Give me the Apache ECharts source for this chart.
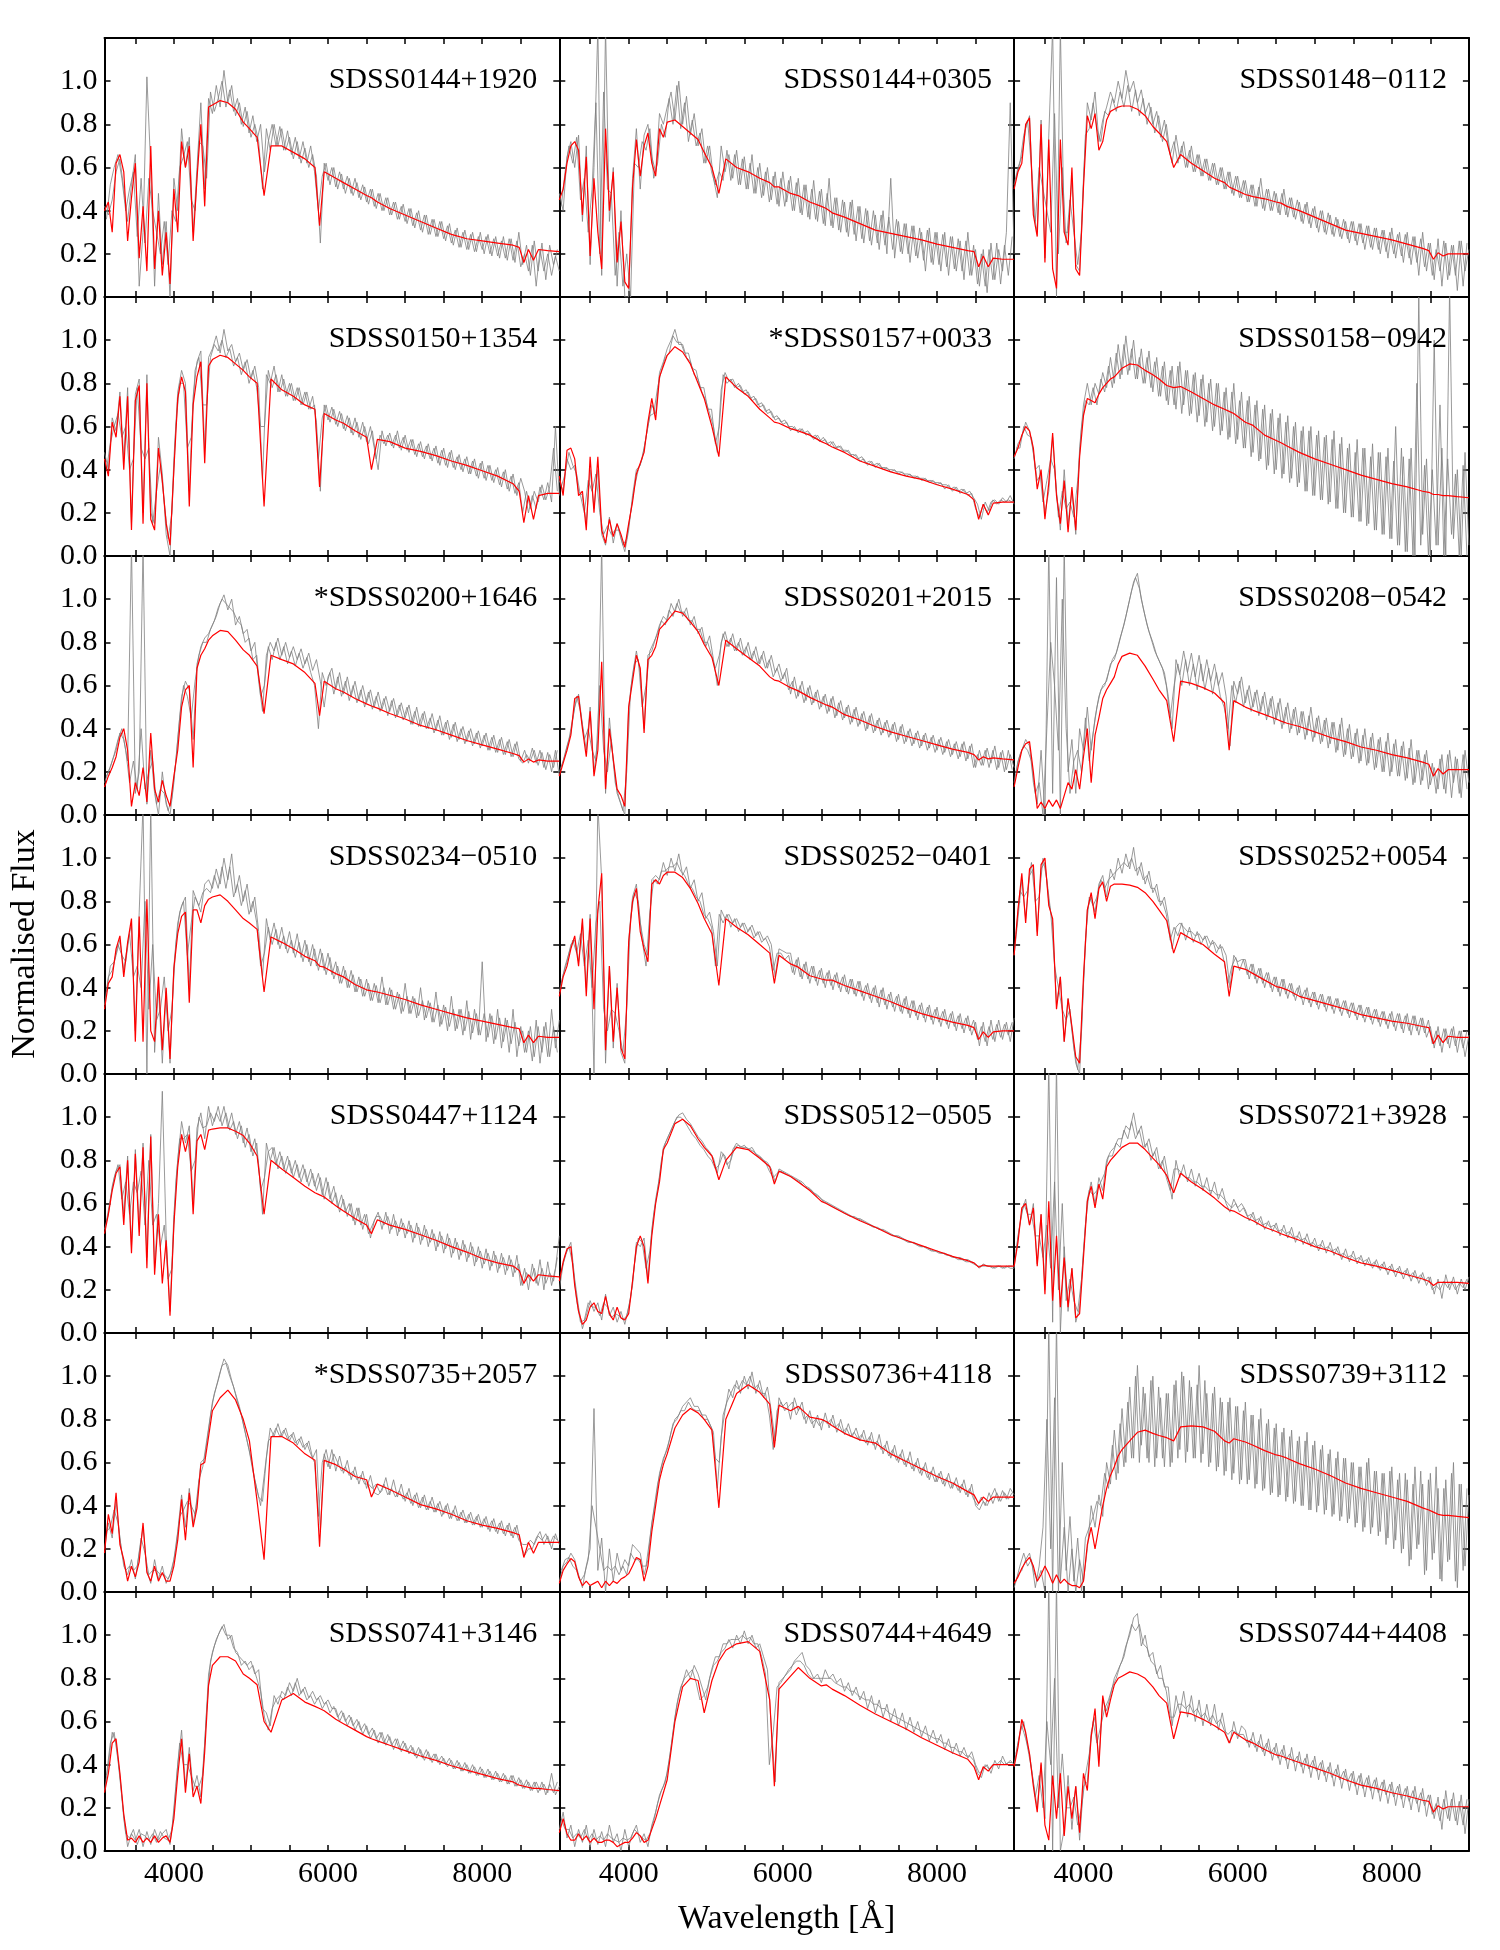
<!DOCTYPE html>
<html>
<head>
<meta charset="utf-8">
<title>Spectra</title>
<script src="https://cdn.jsdelivr.net/npm/echarts@6/dist/echarts.min.js"></script>
<style>
  html, body { margin: 0; padding: 0; background: #fff; }
  #chart { width: 1500px; height: 1950px; }
</style>
</head>
<body>
<div id="chart"></div>
<script>
// wavelength grid of the model curves (Angstrom)
var MODEL_WAVE = [3100,3150,3200,3250,3300,3350,3400,3450,3500,3550,3600,3650,3700,3750,3800,3850,3900,3950,4000,4050,4100,4150,4200,4250,4300,4350,4400,4450,4500,
  4600,4700,4800,4900,4980,5080,5170,5260,5400,5550,
  5700,5830,5890,5950,6100,6200,6350,6500,6563,6640,
  6800,7000,7200,7400,7600,7800,8000,8200,8400,8480,
  8540,8600,8665,8730,8850,9000];
// observed spectra: part A sampled at 3100,3150,...,9000 A; part B at 3125,3175,...,8975 A
var OBS_START_A = 3100, OBS_START_B = 3125, OBS_STEP = 50;

var names = ['SDSS0144+1920','SDSS0144+0305','SDSS0148\u22120112',
  'SDSS0150+1354','*SDSS0157+0033','SDSS0158\u22120942',
  '*SDSS0200+1646','SDSS0201+2015','SDSS0208\u22120542',
  'SDSS0234\u22120510','SDSS0252\u22120401','SDSS0252+0054',
  'SDSS0447+1124','SDSS0512\u22120505','SDSS0721+3928',
  '*SDSS0735+2057','SDSS0736+4118','SDSS0739+3112',
  'SDSS0741+3146','SDSS0744+4649','SDSS0744+4408'];

var xTickValues = [3500,4000,4500,5000,5500,6000,6500,7000,7500,8000,8500];
var xLabelValues = [4000,6000,8000];

// --- model fits (red) ---
var m_0144p1920 = [.40,.44,.30,.62,.66,.58,.26,.46,.62,.18,.42,.12,.70,.13,.40,.10,.30,.06,.50,.30,.72,.60,.70,.26,.55,.80,.42,.88,.89,
  .91,.90,.87,.81,.78,.74,.47,.70,.70,.67, .64,.60,.33,.58,.55,.53,.50,.47,.46,.44, .41,.38,.35,.32,.29,.27,.26,.25,.24,.23, .16,.22,.17,.22,.215,.21];
var m_0144p0305 = [.45,.50,.62,.70,.72,.68,.38,.65,.19,.55,.30,.13,.78,.40,.58,.16,.35,.07,.04,.51,.73,.56,.70,.76,.62,.56,.78,.74,.81,
  .82,.79,.76,.73,.67,.60,.48,.64,.60,.58, .55,.53,.51,.51,.48,.47,.44,.42,.41,.39, .37,.34,.31,.295,.28,.265,.245,.23,.215,.21, .14,.19,.14,.18,.175,.175];
var m_0148m0112 = [.50,.58,.62,.80,.83,.38,.28,.80,.16,.73,.13,.04,.73,.30,.24,.60,.13,.10,.51,.84,.78,.85,.68,.72,.82,.86,.87,.88,.885,
  .885,.87,.84,.79,.76,.72,.60,.66,.62,.585, .55,.53,.51,.50,.475,.465,.455,.44,.435,.42, .40,.37,.34,.31,.295,.28,.265,.245,.225,.215, .175,.205,.19,.20,.20,.20];
var m_0150p1354 = [.45,.37,.62,.55,.74,.40,.74,.12,.72,.79,.15,.80,.17,.12,.50,.35,.15,.05,.40,.73,.83,.76,.23,.70,.83,.90,.43,.88,.91,
  .93,.92,.89,.86,.83,.80,.23,.82,.77,.74, .70,.68,.32,.66,.63,.615,.58,.55,.40,.54, .53,.50,.485,.465,.44,.42,.395,.37,.335,.30, .155,.28,.17,.28,.29,.29];
var m_0157p0033 = [.37,.28,.49,.50,.45,.28,.30,.12,.46,.20,.46,.12,.06,.17,.09,.15,.10,.04,.15,.25,.38,.43,.48,.62,.73,.63,.83,.88,.93,
  .97,.945,.89,.80,.73,.60,.46,.83,.78,.74, .68,.64,.62,.615,.59,.58,.56,.53,.52,.505, .48,.44,.415,.39,.37,.355,.33,.31,.285,.26, .17,.24,.19,.245,.25,.25];
var m_0158m0942 = [.46,.50,.56,.60,.58,.50,.31,.40,.17,.34,.57,.28,.15,.35,.11,.32,.12,.46,.65,.73,.72,.71,.75,.78,.80,.82,.83,.85,.87,
  .89,.885,.86,.84,.82,.79,.78,.785,.76,.73, .70,.68,.67,.66,.62,.605,.56,.535,.525,.51, .48,.45,.425,.40,.375,.355,.335,.32,.30,.295, .285,.285,.28,.28,.275,.27];
var m_0200p1646 = [.13,.18,.22,.27,.36,.40,.30,.04,.15,.09,.22,.06,.38,.12,.06,.16,.09,.04,.18,.30,.50,.58,.60,.22,.68,.74,.77,.81,.83,
  .855,.85,.81,.765,.74,.69,.47,.74,.72,.70, .66,.61,.46,.62,.585,.57,.54,.515,.505,.495, .47,.445,.415,.395,.37,.345,.325,.305,.285,.275, .245,.26,.245,.255,.25,.25];
var m_0201p2015 = [.18,.24,.30,.37,.54,.55,.40,.27,.48,.18,.30,.71,.12,.40,.26,.12,.09,.04,.50,.62,.74,.68,.38,.72,.74,.78,.86,.88,.90,
  .945,.935,.895,.85,.79,.73,.60,.81,.77,.73, .69,.64,.625,.62,.59,.575,.545,.52,.51,.50, .465,.44,.41,.385,.365,.345,.325,.305,.29,.28, .255,.27,.26,.265,.26,.255];
var m_0208m0542 = [.13,.22,.30,.33,.34,.20,.03,.06,.03,.07,.04,.07,.03,.09,.15,.12,.21,.12,.27,.40,.15,.37,.45,.54,.58,.61,.64,.70,.735,
  .75,.74,.69,.63,.58,.53,.34,.62,.61,.59, .565,.52,.30,.53,.50,.485,.465,.445,.435,.425, .41,.385,.36,.34,.315,.30,.28,.265,.245,.235, .18,.215,.19,.21,.21,.21];
var m_0234m0510 = [.30,.42,.45,.58,.64,.45,.61,.72,.15,.73,.15,.81,.20,.15,.45,.11,.40,.07,.49,.65,.73,.75,.33,.76,.76,.70,.78,.81,.82,
  .83,.80,.76,.72,.70,.67,.38,.635,.61,.58, .545,.525,.50,.495,.465,.45,.415,.39,.385,.38, .365,.345,.32,.30,.28,.26,.245,.23,.215,.21, .145,.18,.145,.175,.17,.17];
var m_0252m0401 = [.36,.45,.50,.58,.64,.50,.72,.36,.72,.30,.76,.93,.11,.50,.15,.40,.12,.07,.61,.80,.86,.66,.58,.52,.88,.90,.88,.92,.935,
  .935,.91,.86,.79,.72,.65,.41,.72,.68,.645, .60,.56,.42,.55,.51,.495,.455,.44,.435,.435, .41,.385,.36,.335,.305,.28,.26,.24,.225,.215, .16,.195,.17,.195,.20,.20];
var m_0252p0054 = [.55,.76,.93,.70,.95,.97,.64,.97,1.0,.78,.72,.30,.45,.15,.35,.22,.08,.05,.45,.76,.84,.72,.86,.89,.80,.87,.88,.88,.88,
  .875,.865,.84,.80,.76,.71,.56,.655,.625,.60, .555,.52,.36,.50,.485,.465,.435,.405,.40,.39, .36,.34,.32,.30,.275,.26,.245,.235,.22,.215, .14,.18,.145,.175,.17,.17];
var m_0447p1124 = [.46,.55,.66,.74,.77,.50,.80,.37,.83,.45,.86,.30,.91,.27,.55,.23,.43,.08,.50,.77,.92,.84,.92,.55,.89,.92,.85,.94,.945,
  .95,.95,.935,.915,.88,.82,.55,.80,.76,.72, .68,.65,.64,.63,.59,.565,.53,.50,.46,.525, .50,.48,.455,.43,.40,.375,.345,.325,.31,.29, .23,.27,.24,.27,.265,.26];
var m_0512m0505 = [.24,.33,.39,.40,.22,.10,.04,.06,.12,.14,.10,.09,.17,.09,.06,.12,.07,.06,.09,.24,.40,.45,.40,.23,.45,.60,.70,.85,.88,
  .97,.99,.96,.90,.86,.82,.71,.80,.86,.85, .81,.77,.69,.75,.725,.70,.66,.61,.60,.585, .555,.52,.49,.455,.43,.405,.38,.355,.335,.325, .305,.315,.31,.31,.31,.31];
var m_0721p3928 = [.31,.42,.58,.60,.50,.58,.31,.55,.18,.61,.15,.45,.12,.35,.12,.30,.07,.09,.35,.61,.68,.58,.69,.62,.77,.80,.82,.84,.86,
  .88,.88,.85,.81,.78,.73,.65,.74,.70,.665, .625,.585,.57,.565,.535,.52,.49,.47,.46,.45, .43,.40,.38,.35,.325,.31,.29,.27,.25,.24, .22,.235,.235,.235,.235,.23];
var m_0735p2057 = [.18,.36,.27,.46,.22,.15,.05,.12,.07,.14,.32,.09,.05,.12,.05,.09,.05,.05,.12,.24,.43,.24,.46,.30,.39,.59,.60,.72,.84,
  .90,.935,.89,.80,.70,.42,.15,.72,.72,.69, .64,.61,.21,.61,.59,.57,.535,.52,.44,.50, .475,.44,.405,.385,.36,.33,.31,.295,.275,.265, .16,.23,.18,.23,.23,.23];
var m_0736p4118 = [.04,.10,.13,.155,.14,.07,.03,.05,.03,.04,.05,.02,.05,.03,.05,.04,.06,.07,.085,.12,.16,.15,.05,.12,.28,.40,.52,.59,.64,
  .76,.82,.85,.83,.80,.75,.39,.80,.92,.96, .925,.87,.67,.865,.84,.86,.81,.80,.79,.77, .735,.705,.69,.64,.605,.57,.535,.505,.465,.45, .41,.44,.42,.44,.44,.44];
var m_0739p3112 = [.04,.07,.11,.14,.16,.12,.05,.08,.12,.085,.04,.08,.04,.06,.04,.03,.03,.02,.05,.22,.30,.20,.30,.40,.48,.54,.58,.63,.66,
  .70,.74,.75,.735,.725,.715,.70,.765,.77,.765, .745,.70,.69,.71,.695,.68,.655,.635,.63,.62, .595,.57,.54,.505,.48,.46,.44,.42,.39,.38, .37,.36,.355,.355,.35,.345];
var m_0741p3146 = [.27,.36,.50,.52,.36,.17,.05,.06,.04,.07,.04,.06,.04,.07,.04,.06,.07,.04,.15,.35,.52,.27,.45,.25,.30,.22,.46,.77,.86,
  .90,.90,.88,.82,.80,.77,.60,.55,.70,.73, .69,.67,.66,.65,.61,.59,.56,.53,.52,.51, .49,.465,.44,.42,.395,.375,.355,.335,.32,.305, .30,.295,.29,.29,.285,.28];
var m_0744p4649 = [.085,.15,.08,.05,.05,.08,.05,.07,.04,.06,.04,.04,.05,.05,.04,.02,.03,.04,.04,.06,.085,.07,.04,.05,.10,.15,.21,.27,.33,
  .60,.76,.80,.79,.64,.79,.88,.93,.96,.97, .925,.70,.30,.75,.81,.85,.80,.765,.77,.75, .72,.675,.635,.60,.565,.525,.49,.455,.425,.39, .33,.39,.37,.40,.40,.40];
var m_0744p4408 = [.39,.48,.61,.55,.45,.30,.18,.41,.12,.05,.35,.15,.36,.07,.30,.15,.30,.085,.36,.28,.53,.66,.39,.72,.62,.70,.77,.80,.81,
  .83,.82,.80,.76,.72,.685,.52,.645,.635,.61, .58,.55,.50,.55,.515,.50,.47,.445,.44,.43, .41,.385,.36,.33,.305,.29,.27,.255,.235,.23, .18,.21,.195,.205,.205,.205];

// --- observed spectra (grey), part A: 3100..9000 A every 50 A ---
var oa_0144p1920 = [.42,.38,.45,.58,.64,.50,.35,.52,.66,.05,.30,1.02,.60,.05,.48,.15,.35,0,.55,.40,
  .78,.60,.74,.30,.60,.90,.50,.92,.85,.98,.88,1.05,.90,.98,.84,.90,.79,.86,.74,.80,
  .72,.50,.78,.68,.80,.70,.78,.68,.74,.64,.72,.62,.69,.60,.66,.56,.25,.62,.54,.60,
  .51,.58,.50,.56,.48,.55,.46,.52,.44,.50,.42,.48,.40,.46,.38,.44,.36,.42,.35,.41,
  .33,.39,.31,.38,.29,.36,.28,.35,.27,.33,.25,.31,.23,.30,.22,.29,.21,.28,.22,.28,
  .20,.27,.19,.26,.18,.27,.17,.26,.14,.20,.12,.24,.05,.22,.12,.20,.10,.19,.12];
var oa_0144p0305 = [.48,.40,.65,.72,.60,.75,.35,.70,.15,.60,1.25,.10,1.25,.35,.60,.05,.40,0,0,.55,
  .78,.50,.75,.80,.65,.58,.85,.80,.88,.95,.82,1.0,.80,.93,.75,.85,.70,.78,.62,.70,
  .55,.46,.70,.58,.66,.55,.68,.52,.65,.50,.66,.48,.62,.47,.60,.45,.58,.42,.58,.44,
  .56,.40,.55,.38,.52,.36,.54,.35,.50,.33,.55,.32,.46,.30,.44,.28,.45,.26,.42,.25,
  .40,.24,.38,.22,.40,.20,.55,.18,.35,.20,.34,.16,.33,.18,.30,.12,.32,.15,.30,.12,
  .30,.10,.28,.12,.26,.08,.30,.10,.22,.05,.22,.02,.25,.08,.22,.12,.30,.90,.20];
var oa_0148m0112 = [.52,.60,.65,.78,.84,.40,.30,.82,.18,.75,1.25,0,1.25,.30,.30,.55,.15,.12,.55,.90,
  .82,.95,.72,.82,.88,.95,.90,1.0,.92,1.05,.95,1.0,.90,.96,.85,.90,.80,.86,.74,.82,
  .70,.62,.75,.64,.72,.60,.70,.58,.66,.56,.64,.54,.62,.52,.60,.50,.58,.47,.56,.46,
  .54,.44,.52,.42,.55,.40,.50,.40,.48,.38,.50,.37,.46,.36,.44,.34,.44,.32,.42,.30,
  .40,.29,.38,.28,.36,.27,.35,.25,.35,.24,.34,.22,.33,.22,.32,.20,.31,.18,.32,.18,
  .30,.16,.30,.15,.28,.10,.30,.12,.25,.08,.27,.05,.25,.10,.24,.03,.26,.12,.22];
var oa_0150p1354 = [.48,.40,.64,.58,.76,.45,.78,.15,.75,.82,.20,.84,.20,.15,.55,.38,.10,0,.45,.76,
  .86,.80,.30,.74,.90,.95,.50,.92,.96,1.02,.94,1.05,.95,.98,.90,.94,.86,.91,.82,.88,
  .78,.35,.84,.80,.88,.76,.84,.74,.80,.72,.78,.70,.76,.68,.74,.62,.30,.70,.63,.69,
  .61,.67,.59,.65,.57,.64,.55,.62,.53,.60,.50,.40,.58,.51,.57,.50,.58,.49,.56,.48,
  .54,.46,.53,.45,.52,.44,.51,.42,.50,.41,.49,.40,.47,.39,.46,.38,.45,.36,.44,.35,
  .42,.34,.41,.32,.40,.30,.38,.28,.36,.30,.20,.28,.22,.32,.26,.34,.25,.60,.28];
var oa_0157p0033 = [.35,.30,.45,.40,.42,.30,.28,.15,.40,.22,.40,.10,.05,.18,.06,.15,.08,.02,.12,.28,
  .40,.42,.50,.60,.70,.66,.85,.90,.96,1.00,1.05,.98,.98,.92,.90,.84,.82,.76,.72,.66,
  .60,.48,.77,.85,.81,.82,.78,.79,.75,.76,.72,.73,.69,.70,.66,.67,.63,.64,.61,.62,
  .58,.60,.57,.59,.56,.57,.54,.56,.53,.54,.51,.53,.50,.51,.48,.49,.46,.47,.44,.45,
  .42,.44,.41,.43,.40,.41,.39,.40,.38,.39,.37,.38,.36,.37,.35,.36,.34,.35,.33,.34,
  .31,.33,.30,.32,.29,.31,.28,.29,.22,.18,.24,.20,.25,.26,.24,.27,.25,.28,.24];
var oa_0158m0942 = [.45,.52,.55,.62,.58,.48,.35,.38,.20,.30,.55,.30,.12,.40,.15,.30,.10,.50,.70,.80,
  .70,.80,.75,.85,.78,.92,.80,.98,.84,1.02,.86,1.0,.82,.96,.80,.95,.76,.92,.74,.90,
  .70,.88,.68,.90,.70,.86,.66,.85,.65,.84,.62,.82,.60,.80,.58,.78,.55,.80,.54,.76,
  .50,.74,.48,.72,.45,.70,.42,.68,.40,.66,.38,.65,.36,.62,.34,.60,.30,.60,.28,.58,
  .26,.56,.25,.58,.22,.55,.20,.52,.18,.54,.16,.50,.15,.52,.12,.48,.10,.50,.08,.60,
  .05,.46,.02,.50,0,1.2,.10,.45,0,1.0,.05,.50,0,1.25,.08,.40,0,.48,.05];
var oa_0200p1646 = [.15,.20,.25,.30,.38,.35,.25,1.25,.10,.20,1.25,.05,.30,.10,0,.20,.05,0,.15,.35,
  .55,.62,.58,.35,.70,.78,.82,.84,.88,.92,.98,1.02,.95,1.0,.88,.92,.84,.86,.76,.80,
  .62,.48,.74,.80,.76,.82,.74,.80,.73,.78,.72,.77,.70,.75,.67,.72,.62,.50,.64,.68,
  .58,.66,.56,.64,.55,.62,.53,.60,.52,.58,.50,.57,.49,.55,.48,.54,.46,.52,.45,.51,
  .42,.50,.41,.48,.40,.47,.39,.46,.37,.44,.36,.43,.35,.41,.34,.40,.33,.39,.32,.38,
  .30,.37,.29,.36,.28,.35,.27,.34,.25,.30,.24,.31,.24,.30,.22,.29,.20,.30,.18];
var oa_0201p2015 = [.20,.25,.32,.38,.50,.56,.42,.30,.50,.20,.35,1.25,.10,.45,.25,.10,.05,0,.50,.65,
  .76,.66,.40,.74,.76,.82,.88,.92,.90,.98,.94,1.0,.92,.96,.88,.92,.84,.87,.78,.83,
  .72,.60,.80,.85,.78,.84,.76,.82,.74,.80,.72,.78,.70,.76,.68,.74,.66,.70,.63,.68,
  .56,.64,.55,.62,.53,.60,.52,.58,.50,.56,.48,.55,.46,.53,.45,.51,.43,.50,.42,.48,
  .40,.47,.39,.45,.38,.44,.37,.43,.35,.42,.34,.40,.33,.39,.32,.38,.31,.37,.30,.36,
  .29,.35,.28,.34,.27,.34,.26,.33,.22,.30,.23,.31,.24,.32,.22,.30,.21,.28,.22];
var oa_0208m0542 = [.15,.25,.30,.35,.32,.15,.05,.30,0,1.25,.10,1.1,0,1.25,.20,.35,.10,.40,.30,.50,
  .30,.45,.55,.60,.62,.70,.72,.78,.85,.92,1.0,1.08,1.12,1.0,.92,.85,.80,.74,.70,.66,
  .55,.40,.72,.65,.76,.66,.75,.64,.74,.62,.72,.62,.70,.60,.66,.55,.32,.62,.56,.64,
  .52,.60,.50,.58,.48,.57,.46,.55,.44,.54,.42,.52,.40,.50,.38,.48,.37,.50,.36,.46,
  .34,.45,.33,.43,.30,.45,.28,.42,.27,.40,.25,.40,.24,.38,.22,.36,.20,.38,.20,.35,
  .18,.34,.17,.35,.15,.30,.16,.30,.14,.22,.12,.28,.10,.30,.15,.26,.08,.30,.15];
var oa_0234m0510 = [.32,.45,.48,.55,.62,.48,.60,.70,.20,.75,1.25,0,1.25,.10,.40,.05,.38,.05,.50,.70,
  .78,.82,.40,.85,.80,.75,.88,.90,.86,.95,.88,1.0,.90,1.02,.84,.92,.80,.88,.75,.82,
  .66,.45,.72,.62,.70,.60,.68,.58,.66,.56,.65,.54,.62,.52,.60,.50,.58,.48,.56,.46,
  .52,.42,.50,.40,.48,.38,.45,.36,.44,.34,.42,.33,.45,.32,.40,.30,.38,.28,.42,.28,
  .36,.26,.40,.25,.34,.24,.38,.22,.32,.20,.36,.20,.30,.18,.34,.16,.30,.18,.52,.15,
  .28,.14,.30,.12,.26,.10,.30,.08,.22,.10,.20,.06,.25,.05,.22,.08,.30,.12,.25];
var oa_0252m0401 = [.38,.46,.52,.60,.62,.52,.70,.40,.74,0,1.25,.90,.05,.50,.12,.42,.10,.05,.62,.82,
  .88,.70,.60,.55,.90,.92,.90,.98,.92,1.0,.94,1.02,.92,.96,.86,.90,.80,.84,.72,.75,
  .66,.50,.76,.72,.74,.70,.72,.68,.70,.66,.69,.64,.66,.62,.64,.60,.45,.58,.57,.56,
  .56,.46,.54,.44,.52,.42,.50,.41,.49,.40,.48,.39,.47,.38,.46,.37,.44,.36,.43,.34,
  .42,.33,.41,.31,.40,.30,.38,.29,.37,.28,.36,.26,.34,.25,.33,.24,.32,.23,.31,.22,
  .30,.21,.29,.20,.28,.19,.27,.18,.24,.13,.24,.13,.25,.15,.25,.16,.24,.15,.26];
var oa_0252p0054 = [.55,.72,.90,.72,.92,.95,.66,.95,.98,.80,.70,.32,.45,.15,.35,.20,.05,0,.42,.76,
  .82,.75,.88,.92,.82,.95,.90,1.0,.93,1.02,.95,1.05,.92,.98,.88,.94,.84,.88,.78,.82,
  .72,.58,.68,.70,.68,.66,.66,.64,.65,.62,.64,.60,.61,.58,.59,.55,.40,.55,.52,.53,
  .53,.44,.51,.42,.49,.40,.47,.38,.45,.36,.44,.35,.42,.34,.41,.32,.40,.31,.38,.30,
  .37,.29,.36,.28,.35,.27,.34,.26,.33,.25,.32,.24,.31,.23,.30,.22,.29,.21,.29,.20,
  .28,.19,.28,.18,.27,.18,.26,.17,.22,.12,.22,.10,.21,.12,.22,.10,.20,.08,.18];
var oa_0447p1124 = [.48,.55,.68,.75,.78,.55,.82,.40,.85,.50,.88,.35,.92,.30,.60,1.12,.45,.10,.55,.80,
  .98,.88,.96,.60,.95,1.02,.90,1.05,.96,1.02,.98,1.05,.95,1.02,.92,.98,.88,.95,.84,.90,
  .78,.55,.88,.80,.86,.76,.82,.74,.80,.72,.78,.70,.76,.68,.74,.66,.72,.62,.70,.60,
  .65,.56,.62,.54,.60,.50,.58,.48,.55,.44,.52,.56,.48,.56,.46,.55,.45,.53,.44,.52,
  .42,.51,.41,.50,.40,.48,.38,.47,.37,.46,.35,.44,.34,.43,.33,.42,.31,.40,.30,.39,
  .29,.38,.28,.37,.27,.36,.26,.36,.22,.30,.20,.32,.23,.34,.20,.33,.22,.30,.45];
var oa_0512m0505 = [.20,.32,.38,.42,.25,.12,.02,.08,.15,.10,.14,.06,.18,.08,.12,.05,.10,.04,.12,.22,
  .42,.40,.44,.25,.48,.62,.72,.86,.90,.94,.98,1.01,1.02,.99,.97,.94,.91,.89,.86,.84,
  .81,.74,.84,.82,.76,.85,.88,.86,.87,.85,.86,.83,.82,.80,.79,.76,.70,.76,.75,.74,
  .73,.72,.71,.70,.68,.67,.65,.64,.62,.61,.60,.59,.58,.57,.56,.55,.54,.53,.53,.52,
  .51,.50,.49,.48,.48,.47,.46,.45,.45,.44,.43,.42,.42,.41,.40,.40,.39,.38,.38,.37,
  .37,.36,.35,.35,.35,.34,.34,.33,.32,.30,.32,.31,.31,.30,.31,.30,.31,.30,.30];
var oa_0721p3928 = [.30,.45,.56,.62,.50,.60,.32,.55,.20,1.25,.05,1.25,0,.40,.10,.30,.05,.12,.38,.62,
  .70,.60,.72,.66,.80,.84,.86,.90,.90,.96,.94,1.02,.92,.96,.86,.90,.82,.86,.76,.82,
  .72,.62,.80,.72,.78,.70,.76,.68,.74,.66,.72,.64,.70,.62,.67,.60,.56,.62,.58,.60,
  .57,.52,.56,.50,.54,.48,.52,.47,.51,.45,.50,.44,.49,.42,.47,.41,.46,.40,.44,.38,
  .43,.37,.42,.36,.40,.34,.39,.33,.38,.32,.36,.31,.35,.30,.34,.29,.33,.27,.32,.26,
  .31,.25,.30,.24,.29,.23,.28,.22,.26,.18,.25,.16,.27,.20,.26,.18,.25,.20,.26];
var oa_0735p2057 = [.20,.32,.25,.42,.25,.12,.08,.15,.06,.18,.30,.10,.04,.15,.06,.12,.04,.08,.15,.28,
  .45,.30,.48,.32,.42,.60,.62,.75,.88,.95,1.02,1.08,1.05,.98,.92,.86,.78,.70,.62,.52,
  .44,.42,.62,.76,.72,.78,.72,.76,.70,.74,.68,.72,.66,.70,.62,.66,.28,.64,.58,.66,
  .56,.63,.55,.61,.52,.58,.50,.56,.48,.54,.46,.45,.47,.53,.45,.52,.44,.50,.42,.48,
  .40,.46,.39,.45,.38,.44,.37,.42,.36,.41,.34,.40,.33,.38,.32,.37,.31,.36,.30,.35,
  .28,.34,.27,.33,.26,.32,.25,.31,.22,.17,.20,.20,.25,.28,.22,.26,.20,.27,.22];
var oa_0736p4118 = [.05,.12,.14,.18,.15,.08,.02,.12,.20,.85,.10,.25,0,.20,.05,.18,.10,.15,.12,.22,
  .20,.18,.08,.15,.32,.42,.55,.62,.66,.74,.80,.82,.86,.88,.90,.86,.86,.82,.82,.78,
  .74,.48,.72,.84,.94,.90,.98,.92,1.0,.94,1.02,.92,.98,.90,.95,.84,.70,.90,.86,.88,
  .80,.90,.84,.88,.78,.84,.76,.82,.75,.83,.76,.82,.74,.80,.73,.78,.72,.76,.70,.75,
  .68,.74,.66,.73,.64,.70,.62,.68,.60,.66,.58,.65,.56,.62,.54,.60,.52,.58,.51,.56,
  .49,.55,.48,.53,.46,.52,.44,.50,.40,.38,.42,.40,.44,.48,.42,.47,.43,.48,.45];
var oa_0739p3112 = [.02,.08,.10,.15,.18,.10,.05,.10,0,1.25,0,1.25,.05,.30,0,.20,0,.15,.05,.20,
  .40,.30,.45,.35,.60,.50,.75,.55,.85,.60,.95,.62,1.05,.68,.92,.60,1.0,.62,.90,.58,
  .92,.60,.98,.66,1.0,.65,.95,.62,1.05,.64,.92,.60,.95,.58,.88,.56,.90,.55,.86,.52,
  .88,.52,.82,.50,.85,.48,.80,.46,.78,.45,.76,.44,.75,.42,.72,.40,.74,.38,.70,.40,
  .68,.38,.66,.36,.65,.35,.62,.34,.60,.32,.58,.30,.62,.30,.56,.28,.55,.25,.58,.24,
  .55,.20,.52,.15,.58,.22,.50,.10,.55,.18,.48,.05,.52,.15,.60,.02,.50,.12,.45];
var oa_0741p3146 = [.28,.40,.55,.50,.35,.15,.02,.08,.05,.10,.02,.09,.03,.10,.05,.08,.10,.03,.18,.40,
  .56,.30,.48,.28,.35,.25,.50,.82,.92,.98,1.02,1.05,.98,1.0,.92,.90,.88,.86,.88,.82,
  .84,.66,.64,.58,.72,.68,.74,.72,.78,.74,.80,.73,.76,.71,.74,.70,.72,.68,.70,.66,
  .66,.60,.64,.58,.62,.56,.60,.54,.58,.52,.56,.50,.55,.49,.53,.47,.52,.46,.50,.45,
  .48,.43,.47,.42,.46,.41,.45,.40,.43,.39,.42,.38,.41,.37,.40,.36,.39,.35,.38,.34,
  .37,.33,.36,.32,.35,.31,.35,.30,.33,.29,.32,.28,.32,.28,.31,.27,.36,.26,.30];
var oa_0744p4649 = [.10,.18,.06,.12,.02,.10,.04,.12,.02,.10,.03,.09,.02,.12,.04,.08,0,.10,.02,.08,
  .12,.04,.08,.02,.12,.18,.26,.30,.36,.48,.62,.72,.78,.84,.80,.86,.82,.76,.70,.80,
  .86,.88,.92,.94,.98,.94,1.0,.96,1.02,.96,1.0,.94,.96,.90,.84,.58,.32,.78,.80,.82,
  .84,.88,.90,.92,.86,.84,.80,.82,.78,.84,.80,.82,.78,.80,.74,.78,.72,.76,.70,.74,
  .66,.72,.64,.70,.62,.68,.60,.66,.58,.64,.56,.62,.55,.60,.53,.58,.51,.56,.50,.54,
  .47,.52,.45,.50,.44,.48,.43,.46,.40,.36,.38,.40,.36,.42,.38,.44,.40,.42,.40];
var oa_0744p4408 = [.40,.50,.58,.52,.45,.32,.20,.40,.15,1.25,0,1.25,0,.10,.35,.10,.30,.05,.30,.32,
  .55,.62,.42,.70,.65,.72,.80,.84,.88,.95,1.0,1.08,1.1,.95,1.0,.90,.92,.82,.86,.76,
  .76,.58,.72,.64,.74,.62,.72,.60,.70,.58,.68,.58,.68,.56,.64,.54,.50,.60,.52,.58,
  .56,.48,.55,.46,.54,.44,.52,.42,.50,.40,.49,.38,.48,.37,.46,.36,.45,.34,.44,.33,
  .42,.32,.41,.30,.40,.29,.38,.28,.37,.26,.36,.25,.35,.24,.34,.23,.33,.22,.32,.21,
  .31,.20,.30,.19,.30,.18,.29,.16,.26,.15,.25,.10,.28,.14,.27,.12,.26,.08,.24];

// --- observed spectra (grey), part B: 3125..8975 A every 50 A ---
var ob_0144p1920 = [.36,.52,.60,.66,.55,.40,.50,.58,.28,.55,.25,.55,.40,.30,.20,.35,.15,.40,.35,.60,
  .65,.72,.45,.40,.72,.70,.55,.95,.86,.92,1.0,.88,.96,.86,.92,.80,.88,.76,.84,.72,
  .80,.58,.72,.80,.70,.79,.68,.77,.66,.74,.64,.72,.62,.70,.58,.40,.56,.62,.52,.60,
  .50,.57,.48,.55,.47,.53,.45,.51,.43,.50,.41,.48,.40,.46,.38,.44,.36,.43,.34,.41,
  .32,.40,.30,.38,.29,.36,.28,.35,.26,.34,.24,.32,.23,.31,.22,.30,.21,.30,.20,.29,
  .19,.28,.18,.28,.17,.27,.16,.30,.15,.24,.10,.26,.12,.25,.08,.24,.15,.22];
var ob_0144p0305 = [.42,.58,.70,.62,.74,.45,.55,.30,.50,.90,.20,.95,.50,.48,.10,.30,.05,.20,0,.62,
  .60,.72,.68,.78,.55,.62,.80,.74,.92,.80,.98,.78,.90,.72,.82,.70,.76,.62,.70,.58,
  .52,.58,.54,.68,.54,.66,.52,.64,.50,.62,.48,.60,.46,.58,.44,.56,.43,.55,.42,.54,
  .40,.53,.39,.52,.37,.50,.36,.49,.34,.48,.33,.46,.31,.45,.30,.44,.29,.42,.27,.41,
  .26,.40,.25,.38,.24,.37,.22,.36,.21,.34,.20,.33,.19,.32,.17,.31,.16,.30,.15,.29,
  .14,.28,.13,.27,.12,.26,.10,.24,.06,.20,.05,.22,.08,.25,.06,.24,.10,.28];
var ob_0148m0112 = [.55,.62,.75,.82,.60,.35,.60,.50,.40,.30,.85,.20,.60,.25,.45,.30,.15,.30,.75,.78,
  .90,.78,.72,.86,.84,.92,.86,.95,.88,.98,.86,.96,.84,.92,.80,.88,.76,.84,.72,.80,
  .66,.72,.62,.70,.60,.68,.58,.66,.56,.64,.54,.62,.52,.60,.50,.58,.48,.56,.46,.54,
  .44,.52,.42,.51,.41,.50,.40,.49,.39,.48,.38,.46,.37,.45,.35,.43,.34,.41,.32,.40,
  .30,.39,.29,.37,.28,.36,.27,.35,.26,.34,.25,.33,.23,.32,.22,.31,.21,.30,.20,.29,
  .19,.29,.18,.28,.16,.27,.14,.25,.10,.22,.12,.26,.08,.24,.10,.26,.05,.25];
var ob_0150p1354 = [.40,.52,.60,.66,.55,.60,.40,.45,.78,.50,.45,.50,.15,.30,.42,.25,.08,.20,.60,.80,
  .80,.50,.55,.86,.92,.70,.70,.92,.98,.95,1.0,.92,.96,.88,.92,.84,.90,.80,.86,.78,
  .60,.60,.86,.78,.84,.76,.82,.74,.80,.72,.78,.70,.76,.68,.70,.45,.64,.70,.62,.68,
  .60,.66,.58,.64,.56,.62,.54,.60,.52,.58,.45,.56,.52,.56,.51,.56,.50,.55,.49,.54,
  .47,.52,.46,.51,.45,.50,.43,.49,.42,.48,.41,.46,.40,.45,.38,.44,.37,.43,.36,.42,
  .35,.40,.33,.39,.31,.37,.29,.34,.20,.30,.22,.30,.25,.33,.26,.32,.50,.30];
var ob_0157p0033 = [.32,.38,.48,.42,.38,.28,.20,.35,.30,.38,.20,.10,.14,.10,.12,.12,.05,.08,.20,.32,
  .40,.45,.55,.65,.66,.78,.86,.92,.94,1.02,.99,.99,.94,.94,.87,.86,.78,.78,.68,.68,
  .52,.60,.84,.80,.82,.78,.80,.76,.77,.73,.74,.70,.71,.67,.68,.64,.65,.62,.63,.60,
  .60,.58,.59,.57,.58,.55,.56,.53,.55,.52,.53,.50,.51,.49,.49,.47,.47,.45,.46,.43,
  .44,.42,.43,.41,.41,.40,.40,.39,.39,.38,.38,.37,.37,.36,.36,.35,.35,.34,.34,.33,
  .33,.31,.32,.30,.31,.29,.30,.27,.24,.17,.25,.21,.26,.24,.26,.25,.26,.25];
var ob_0158m0942 = [.50,.50,.60,.56,.55,.40,.42,.25,.35,.45,.40,.18,.30,.22,.25,.18,.35,.60,.72,.70,
  .78,.70,.82,.76,.88,.78,.94,.82,.98,.84,.96,.82,.92,.80,.92,.78,.90,.74,.88,.72,
  .86,.70,.88,.66,.86,.65,.84,.62,.82,.60,.80,.58,.80,.56,.76,.54,.76,.52,.72,.50,
  .72,.46,.70,.44,.68,.40,.66,.38,.64,.36,.62,.34,.60,.32,.58,.30,.58,.28,.56,.26,
  .55,.24,.54,.22,.52,.20,.50,.18,.48,.16,.50,.14,.46,.12,.48,.10,.46,.08,.44,.05,
  .50,.02,.45,0,.80,.05,.42,0,.40,.05,.70,0,.45,.10,.38,0,.42,0];
var ob_0200p1646 = [.18,.22,.28,.35,.40,.30,.15,.25,.12,.40,.12,.20,.25,.05,.12,.10,.02,.08,.25,.45,
  .60,.55,.45,.62,.74,.80,.80,.86,.90,.96,1.0,.98,.96,.94,.90,.88,.80,.82,.72,.74,
  .55,.60,.78,.72,.80,.72,.78,.70,.76,.69,.75,.68,.73,.66,.60,.40,.66,.60,.66,.56,
  .64,.55,.62,.53,.60,.52,.58,.50,.57,.49,.55,.48,.54,.46,.53,.45,.51,.44,.50,.42,
  .48,.41,.47,.40,.45,.38,.44,.37,.43,.35,.42,.34,.40,.33,.39,.32,.38,.31,.37,.30,
  .36,.29,.35,.28,.34,.27,.33,.26,.24,.28,.25,.30,.23,.29,.21,.28,.22,.30];
var ob_0201p2015 = [.22,.28,.35,.45,.55,.48,.35,.40,.30,.25,.60,.30,.20,.35,.15,.08,.02,.20,.58,.70,
  .72,.50,.60,.76,.80,.84,.90,.88,.95,.92,.98,.94,.94,.90,.90,.86,.86,.80,.80,.74,
  .68,.74,.84,.78,.82,.76,.80,.74,.78,.72,.76,.70,.74,.68,.72,.64,.68,.62,.66,.58,
  .62,.54,.60,.52,.59,.51,.57,.49,.55,.47,.54,.45,.52,.44,.50,.42,.49,.41,.47,.39,
  .46,.38,.44,.37,.43,.36,.42,.34,.41,.33,.39,.32,.38,.31,.37,.30,.36,.29,.35,.28,
  .34,.27,.33,.26,.33,.25,.32,.22,.28,.23,.30,.22,.30,.21,.29,.20,.30,.21];
var ob_0208m0542 = [.20,.28,.32,.30,.25,.10,.15,0,.40,.80,.60,.30,1.0,.40,.10,.25,.30,.20,.45,.25,
  .38,.50,.58,.60,.66,.72,.75,.82,.88,.96,1.04,1.1,1.05,.96,.88,.82,.76,.72,.68,.60,
  .45,.60,.70,.60,.72,.60,.70,.58,.70,.58,.68,.56,.66,.55,.50,.40,.60,.52,.62,.50,
  .58,.48,.57,.46,.55,.44,.54,.42,.52,.40,.50,.38,.49,.37,.48,.35,.46,.34,.45,.33,
  .44,.31,.43,.29,.42,.27,.40,.26,.38,.24,.37,.23,.36,.21,.35,.20,.34,.18,.33,.18,
  .32,.16,.31,.14,.30,.14,.28,.12,.24,.10,.26,.12,.28,.08,.27,.10,.28,.12];
var ob_0234m0510 = [.38,.50,.52,.60,.55,.52,.65,.45,.50,.40,.80,.30,.60,.25,.30,.45,.20,.30,.60,.75,
  .80,.55,.70,.82,.78,.84,.86,.84,.92,.86,.96,.86,.96,.82,.88,.78,.85,.74,.80,.70,
  .50,.56,.68,.60,.67,.58,.64,.56,.62,.54,.61,.52,.60,.50,.58,.48,.56,.46,.54,.44,
  .50,.42,.48,.40,.46,.38,.44,.36,.42,.34,.41,.33,.40,.32,.39,.30,.37,.29,.36,.28,
  .35,.27,.34,.26,.33,.24,.32,.23,.31,.22,.30,.21,.30,.20,.29,.19,.28,.18,.28,.17,
  .27,.16,.26,.15,.25,.14,.24,.13,.20,.10,.22,.08,.22,.10,.24,.08,.22,.10];
var ob_0252m0401 = [.42,.50,.56,.62,.56,.65,.50,.62,.40,.70,.80,.30,.20,.30,.28,.20,.10,.30,.72,.84,
  .80,.62,.50,.75,.90,.88,.94,.94,.96,.96,.98,.94,.92,.88,.86,.82,.80,.74,.72,.68,
  .50,.74,.70,.74,.68,.72,.66,.70,.65,.68,.63,.66,.61,.63,.59,.48,.56,.56,.53,.55,
  .47,.53,.45,.51,.44,.50,.43,.48,.42,.47,.41,.46,.40,.45,.38,.44,.37,.43,.36,.41,
  .35,.40,.33,.39,.32,.37,.31,.36,.29,.35,.28,.34,.27,.32,.26,.31,.25,.30,.24,.29,
  .23,.28,.22,.27,.21,.26,.20,.25,.16,.22,.15,.22,.16,.23,.17,.23,.18,.24];
var ob_0252p0054 = [.65,.85,.82,.85,.98,.80,.82,1.0,.90,.75,.50,.40,.30,.25,.30,.12,.02,.20,.62,.82,
  .78,.82,.90,.86,.90,.92,.94,.96,.98,.96,1.0,.94,.96,.90,.92,.86,.86,.80,.80,.74,
  .62,.68,.64,.70,.62,.68,.61,.66,.60,.64,.58,.62,.56,.60,.52,.42,.50,.54,.48,.53,
  .46,.51,.44,.49,.42,.47,.40,.45,.38,.44,.37,.42,.36,.40,.35,.39,.33,.38,.32,.37,
  .31,.36,.30,.35,.29,.34,.28,.33,.27,.32,.26,.31,.25,.30,.24,.29,.23,.28,.22,.28,
  .21,.27,.20,.27,.20,.26,.19,.25,.14,.20,.13,.21,.14,.21,.13,.20,.12,.20];
var ob_0447p1124 = [.52,.62,.72,.78,.62,.70,.55,.70,.65,.75,.50,.80,.50,.55,.40,.50,.25,.30,.70,.90,
  .90,.92,.75,.80,1.0,.95,.96,1.02,.98,1.05,.96,1.02,.94,.98,.90,.96,.86,.92,.82,.88,
  .66,.72,.84,.86,.78,.84,.76,.82,.74,.80,.72,.78,.70,.76,.68,.74,.64,.72,.62,.68,
  .58,.64,.56,.60,.52,.58,.50,.55,.46,.50,.54,.54,.50,.54,.48,.52,.47,.51,.46,.50,
  .44,.49,.43,.48,.42,.46,.40,.45,.39,.44,.37,.42,.36,.41,.35,.40,.33,.38,.32,.37,
  .31,.36,.30,.35,.29,.34,.28,.32,.22,.28,.24,.30,.22,.30,.23,.28,.24,.35];
var ob_0512m0505 = [.28,.36,.40,.32,.15,.05,.06,.14,.12,.12,.08,.14,.12,.07,.09,.08,.06,.08,.16,.32,
  .44,.42,.30,.38,.55,.66,.80,.88,.92,.96,1.0,1.0,.98,.95,.92,.90,.87,.85,.82,.80,
  .76,.78,.83,.78,.80,.86,.87,.86,.86,.85,.84,.82,.81,.79,.75,.72,.74,.75,.74,.73,
  .72,.71,.70,.68,.67,.66,.64,.63,.61,.60,.59,.58,.57,.56,.55,.54,.54,.53,.52,.51,
  .50,.49,.49,.48,.47,.46,.45,.45,.44,.43,.42,.42,.41,.40,.40,.39,.38,.38,.37,.37,
  .36,.36,.35,.34,.34,.33,.33,.32,.31,.31,.31,.31,.30,.31,.31,.30,.31,.31];
var ob_0721p3928 = [.38,.50,.60,.55,.55,.45,.45,.35,.50,.30,.70,.20,.60,.15,.25,.15,.10,.25,.50,.66,
  .64,.66,.70,.74,.82,.82,.88,.86,.94,.90,.98,.90,.94,.86,.88,.80,.84,.76,.80,.72,
  .66,.76,.76,.74,.72,.72,.70,.70,.68,.68,.66,.66,.64,.64,.62,.60,.58,.60,.56,.58,
  .54,.55,.52,.53,.50,.51,.49,.50,.47,.48,.46,.47,.44,.45,.43,.44,.41,.42,.40,.41,
  .39,.40,.38,.39,.36,.37,.35,.36,.34,.35,.33,.34,.31,.33,.30,.32,.29,.31,.28,.30,
  .27,.29,.26,.28,.25,.27,.24,.26,.20,.22,.20,.24,.21,.24,.20,.23,.21,.25];
var ob_0735p2057 = [.28,.30,.38,.32,.18,.10,.12,.10,.12,.25,.18,.08,.10,.10,.08,.08,.06,.10,.20,.35,
  .38,.42,.40,.36,.52,.58,.70,.82,.92,.98,1.05,1.06,1.0,.95,.88,.82,.74,.66,.56,.48,
  .40,.55,.70,.72,.76,.72,.75,.71,.73,.69,.71,.67,.69,.64,.60,.35,.60,.66,.57,.64,
  .60,.56,.58,.54,.56,.52,.54,.50,.50,.48,.50,.46,.50,.45,.48,.44,.47,.43,.46,.41,
  .45,.39,.44,.38,.42,.37,.41,.35,.40,.34,.38,.33,.37,.32,.36,.31,.35,.30,.34,.29,
  .33,.28,.32,.27,.31,.26,.30,.24,.22,.22,.24,.22,.26,.24,.27,.22,.26,.24];
var ob_0736p4118 = [.10,.15,.16,.12,.10,.05,.08,.15,.40,.30,.20,.10,.12,.10,.12,.08,.12,.08,.18,.15,
  .15,.12,.12,.25,.38,.50,.58,.64,.70,.78,.80,.84,.84,.88,.85,.84,.84,.80,.80,.76,
  .62,.60,.82,.88,.92,.96,.94,.98,.96,1.0,.94,.96,.92,.92,.82,.66,.84,.88,.84,.86,
  .88,.82,.86,.80,.82,.78,.80,.77,.80,.78,.80,.76,.78,.74,.76,.72,.74,.71,.73,.69,
  .72,.68,.70,.66,.68,.63,.66,.61,.64,.59,.62,.57,.60,.55,.58,.53,.56,.51,.55,.50,
  .53,.48,.51,.47,.50,.45,.48,.43,.40,.44,.40,.46,.41,.46,.42,.46,.43,.46];
var ob_0739p3112 = [.05,.12,.18,.12,.15,.02,.12,.30,.80,.20,.90,0,.60,.10,.35,.05,.25,0,.25,.30,
  .35,.42,.40,.55,.48,.68,.52,.78,.58,.88,.62,1.0,.60,.95,.62,.98,.58,.95,.62,.92,
  .58,.96,.62,1.02,.60,.98,.62,.96,.60,.98,.58,.92,.56,.90,.54,.88,.52,.86,.50,.84,
  .50,.82,.48,.80,.47,.78,.45,.76,.44,.74,.42,.72,.41,.70,.40,.70,.38,.68,.37,.66,
  .36,.64,.35,.62,.33,.62,.32,.60,.30,.58,.28,.60,.27,.56,.26,.55,.22,.56,.20,.52,
  .18,.55,.12,.50,.20,.56,.08,.52,.15,.58,.06,.48,.14,.55,.05,.50,.10,.48];
var ob_0741p3146 = [.35,.50,.55,.42,.25,.08,.06,.10,.03,.08,.07,.05,.08,.04,.09,.06,.05,.10,.30,.50,
  .40,.40,.35,.30,.30,.35,.65,.88,.95,1.0,1.04,1.0,1.0,.94,.92,.86,.88,.84,.86,.80,
  .74,.62,.56,.66,.70,.72,.70,.76,.72,.78,.72,.75,.70,.72,.68,.71,.66,.69,.64,.67,
  .62,.65,.60,.63,.58,.61,.56,.59,.54,.57,.52,.55,.50,.54,.49,.52,.47,.51,.46,.49,
  .44,.48,.43,.47,.42,.45,.41,.44,.40,.43,.38,.42,.37,.41,.36,.40,.35,.39,.34,.38,
  .33,.37,.32,.36,.31,.35,.30,.34,.29,.33,.28,.32,.27,.32,.26,.31,.27,.32];
var ob_0744p4649 = [.15,.10,.10,.06,.08,.06,.10,.05,.08,.05,.07,.05,.08,.06,.05,.04,.06,.05,.06,.10,
  .08,.06,.05,.08,.14,.22,.28,.32,.42,.55,.68,.76,.80,.82,.84,.78,.70,.72,.76,.84,
  .90,.90,.96,.96,.98,.98,.98,1.0,.98,.99,.96,.96,.90,.82,.40,.55,.76,.78,.81,.84,
  .86,.88,.88,.86,.82,.80,.80,.80,.80,.80,.80,.78,.77,.76,.76,.74,.74,.72,.71,.70,
  .70,.68,.68,.66,.66,.64,.63,.62,.61,.60,.59,.58,.57,.56,.55,.54,.53,.52,.52,.50,
  .50,.48,.48,.46,.46,.44,.44,.42,.36,.34,.40,.38,.40,.40,.42,.40,.41,.41];
var ob_0744p4408 = [.45,.55,.60,.48,.38,.25,.35,.20,.60,.40,.80,.20,.45,.20,.20,.25,.12,.20,.35,.45,
  .60,.50,.58,.66,.70,.76,.80,.86,.90,.98,1.05,1.02,1.05,.96,.94,.88,.86,.80,.80,.74,
  .62,.62,.68,.68,.66,.68,.64,.66,.62,.64,.60,.63,.59,.61,.56,.54,.56,.55,.54,.54,
  .50,.52,.48,.51,.46,.50,.45,.48,.43,.47,.42,.45,.41,.44,.39,.43,.38,.42,.37,.41,
  .35,.39,.34,.38,.33,.37,.32,.36,.30,.35,.29,.34,.28,.33,.27,.32,.26,.31,.25,.30,
  .24,.29,.23,.28,.22,.27,.21,.26,.17,.22,.14,.24,.15,.24,.14,.23,.12,.24];

var models = [m_0144p1920, m_0144p0305, m_0148m0112, m_0150p1354, m_0157p0033, m_0158m0942,
  m_0200p1646, m_0201p2015, m_0208m0542, m_0234m0510, m_0252m0401, m_0252p0054,
  m_0447p1124, m_0512m0505, m_0721p3928, m_0735p2057, m_0736p4118, m_0739p3112,
  m_0741p3146, m_0744p4649, m_0744p4408];
var observedA = [oa_0144p1920, oa_0144p0305, oa_0148m0112, oa_0150p1354, oa_0157p0033, oa_0158m0942,
  oa_0200p1646, oa_0201p2015, oa_0208m0542, oa_0234m0510, oa_0252m0401, oa_0252p0054,
  oa_0447p1124, oa_0512m0505, oa_0721p3928, oa_0735p2057, oa_0736p4118, oa_0739p3112,
  oa_0741p3146, oa_0744p4649, oa_0744p4408];
var observedB = [ob_0144p1920, ob_0144p0305, ob_0148m0112, ob_0150p1354, ob_0157p0033, ob_0158m0942,
  ob_0200p1646, ob_0201p2015, ob_0208m0542, ob_0234m0510, ob_0252m0401, ob_0252p0054,
  ob_0447p1124, ob_0512m0505, ob_0721p3928, ob_0735p2057, ob_0736p4118, ob_0739p3112,
  ob_0741p3146, ob_0744p4649, ob_0744p4408];

// layout of the 7 x 3 panel grid (px)
var PLOT_LEFT = 104.5, PLOT_TOP = 38, CELL_W = 454.8, CELL_H = 259;
var FONT = '"Liberation Serif", "DejaVu Serif", "Times New Roman", serif';

function toPoints(values, start, step) {
    return values.map(function (v, k) { return [start + step * k, v]; });
}

var chart = echarts.init(document.getElementById('chart'));

var grids = [], xAxes = [], yAxes = [], series = [], texts = [];

names.forEach(function (name, i) {
    var r = Math.floor(i / 3), c = i % 3;
    var left = PLOT_LEFT + c * CELL_W, top = PLOT_TOP + r * CELL_H;
    grids.push({ left: left, top: top, width: CELL_W, height: CELL_H });

    var line = { show: true, onZero: false, lineStyle: { color: '#000', width: 2 } };
    var tickStyle = { color: '#000', width: 1.5 };

    ['bottom', 'top'].forEach(function (pos) {
        xAxes.push({
            type: 'value', gridIndex: i, position: pos, min: 3100, max: 9000,
            axisLine: line,
            axisTick: { show: true, inside: true, length: 6, customValues: xTickValues, lineStyle: tickStyle },
            splitLine: { show: false },
            axisLabel: {
                show: pos === 'bottom' && r === 6, customValues: xLabelValues,
                formatter: function (v) { return String(v); },
                fontFamily: FONT, fontSize: 30, color: '#000', margin: 8
            }
        });
    });
    ['left', 'right'].forEach(function (pos) {
        yAxes.push({
            type: 'value', gridIndex: i, position: pos, min: 0, max: 1.2, interval: 0.2,
            axisLine: line,
            axisTick: { show: true, inside: true, length: 6, lineStyle: tickStyle },
            splitLine: { show: false },
            axisLabel: {
                show: pos === 'left' && c === 0, showMaxLabel: false,
                formatter: function (v) { return v.toFixed(1); },
                fontFamily: FONT, fontSize: 30, color: '#000', margin: 7
            }
        });
    });

    // observed spectrum drawn as two interleaved grey traces, model on top in red
    [toPoints(observedA[i], OBS_START_A, OBS_STEP), toPoints(observedB[i], OBS_START_B, OBS_STEP)].forEach(function (pts) {
        series.push({
            type: 'line', xAxisIndex: 2 * i, yAxisIndex: 2 * i, showSymbol: false, silent: true, z: 2,
            data: pts,
            lineStyle: { color: '#808080', width: 0.8 }
        });
    });
    series.push({
        type: 'line', xAxisIndex: 2 * i, yAxisIndex: 2 * i, showSymbol: false, silent: true, z: 3,
        data: toPoints(models[i], 0, 0).map(function (p, k) { return [MODEL_WAVE[k], p[1]]; }),
        lineStyle: { color: '#ff0000', width: 1.2 }
    });

    texts.push({
        type: 'text', x: left + CELL_W - 22, y: top + 42, z: 10,
        style: { text: name, font: '30px ' + FONT, fill: '#000',
                 textAlign: 'right', align: 'right', textVerticalAlign: 'middle', verticalAlign: 'middle' }
    });
});

texts.push({
    type: 'text', x: 25, y: 944, rotation: Math.PI / 2,
    style: { text: 'Normalised Flux', font: '34px ' + FONT, fill: '#000',
             textAlign: 'center', align: 'center', textVerticalAlign: 'middle', verticalAlign: 'middle' }
});
texts.push({
    type: 'text', x: PLOT_LEFT + 1.5 * CELL_W, y: 1919,
    style: { text: 'Wavelength [\u00c5]', font: '34px ' + FONT, fill: '#000',
             textAlign: 'center', align: 'center', textVerticalAlign: 'middle', verticalAlign: 'middle' }
});

chart.setOption({
    animation: false,
    backgroundColor: '#fff',
    grid: grids,
    xAxis: xAxes,
    yAxis: yAxes,
    series: series,
    graphic: { elements: texts }
});
</script>
</body>
</html>
